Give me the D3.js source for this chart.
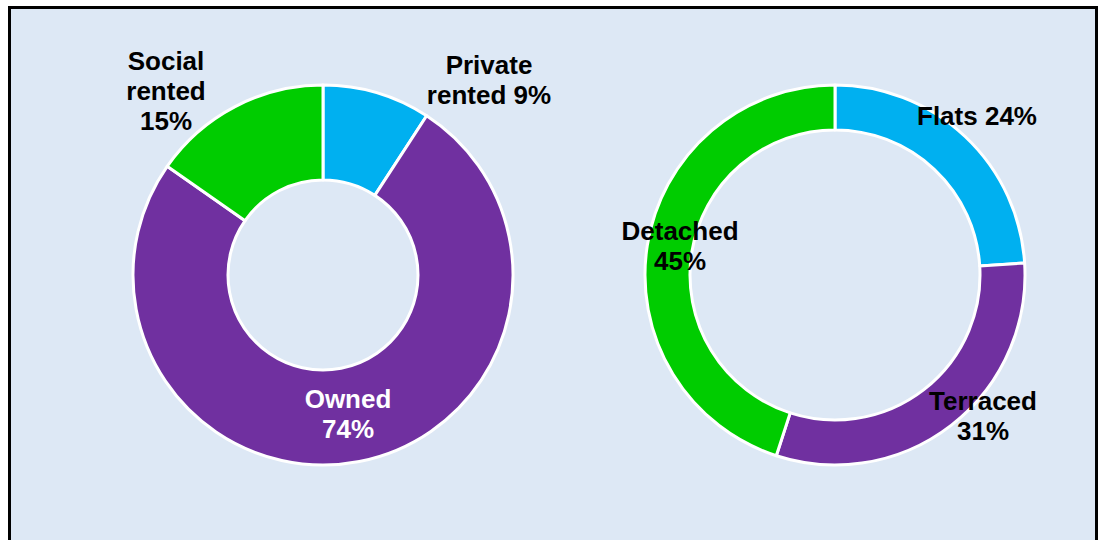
<!DOCTYPE html>
<html>
<head>
<meta charset="utf-8">
<script src="https://cdn.jsdelivr.net/npm/d3@7/dist/d3.min.js"></script>
<style>
  html, body { margin: 0; padding: 0; background: #fff; }
  svg { display: block; }
  .label { font-family: "Liberation Sans", Arial, sans-serif; font-weight: bold; font-size: 26px; }
</style>
</head>
<body>
<div id="chart"></div>
<script>
// tenure split (left donut)
const tenureNames = ['Private rented', 'Owned', 'Social rented'];
const tenureValues = [9, 74, 15];
const tenureLabels = [['Private', 'rented 9%'], ['Owned', '74%'], ['Social', 'rented', '15%']];

// dwelling type split (right donut)
const typeNames = ['Flats', 'Terraced', 'Detached'];
const typeValues = [24, 31, 45];
const typeLabels = [['Flats 24%'], ['Terraced', '31%'], ['Detached', '45%']];

const sliceColors = ['#00b0f0', '#7030a0', '#00cc00'];

const width = 1101, height = 540;

const svg = d3.select('#chart').append('svg')
  .attr('width', width)
  .attr('height', height);

// panel background + frame (bottom runs off the picture)
svg.append('rect')
  .attr('x', 9.5).attr('y', 7.5)
  .attr('width', 1087).attr('height', 620)
  .attr('fill', '#dde8f5')
  .attr('stroke', '#000')
  .attr('stroke-width', 3);

const pie = d3.pie().sort(null).value(d => d);
const color = d3.scaleOrdinal().range(sliceColors);

function drawDonut(opts) {
  const g = svg.append('g')
    .attr('transform', `translate(${opts.cx},${opts.cy})`);

  const arc = d3.arc()
    .innerRadius(opts.inner)
    .outerRadius(opts.outer);

  g.selectAll('path')
    .data(pie(opts.values))
    .enter().append('path')
    .attr('d', arc)
    .attr('fill', (d, i) => color(i))
    .attr('stroke', '#fff')
    .attr('stroke-width', 3)
    .attr('stroke-linejoin', 'round');

  // labels, offsets relative to donut centre
  opts.labels.forEach((lines, i) => {
    const pos = opts.labelPos[i];
    const t = g.append('text')
      .attr('class', 'label')
      .attr('text-anchor', 'middle')
      .attr('fill', pos.color || '#000');
    lines.forEach((line, j) => {
      t.append('tspan')
        .attr('x', pos.dx)
        .attr('y', pos.dy + j * 30)
        .text(line);
    });
  });
}

drawDonut({
  cx: 323, cy: 275, outer: 190, inner: 95,
  values: tenureValues,
  labels: tenureLabels,
  labelPos: [
    {dx: 166, dy: -201},
    {dx: 25, dy: 133, color: '#fff'},
    {dx: -157, dy: -205}
  ]
});

drawDonut({
  cx: 835, cy: 275, outer: 190, inner: 145,
  values: typeValues,
  labels: typeLabels,
  labelPos: [
    {dx: 142, dy: -150},
    {dx: 148, dy: 135},
    {dx: -155, dy: -35}
  ]
});
</script>
</body>
</html>
